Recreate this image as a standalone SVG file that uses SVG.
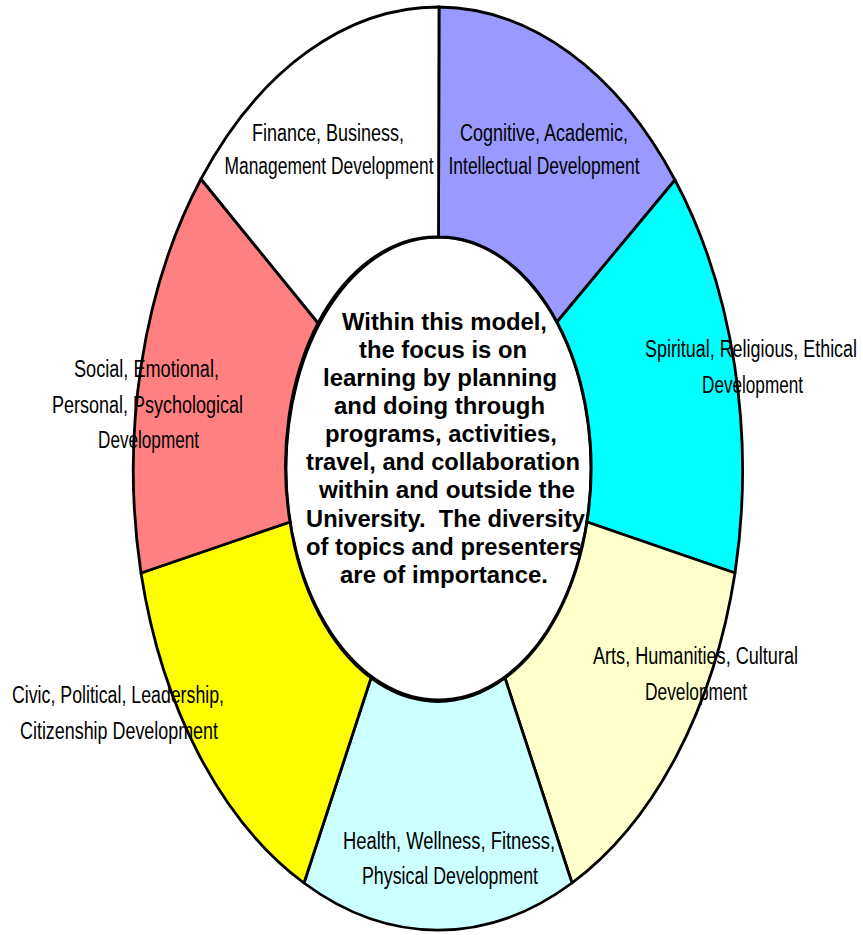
<svg xmlns="http://www.w3.org/2000/svg" width="863" height="935" viewBox="0 0 863 935">
<style>
.seg{stroke:#000;stroke-width:2.8;stroke-linejoin:round}
.lbl{font-family:"Liberation Sans",Arial,sans-serif;font-size:23px;fill:#000;text-anchor:middle}
.ctr{font-family:"Liberation Sans",Arial,sans-serif;font-size:23.5px;font-weight:bold;fill:#000}
</style>
<rect width="863" height="935" fill="#fff"/>
<g id="center">
<ellipse cx="438.5" cy="468.5" rx="152.5" ry="231.5" fill="#fff" class="seg"/>
<text class="ctr" x="342" y="330" textLength="205" lengthAdjust="spacingAndGlyphs">Within this model,</text>
<text class="ctr" x="359" y="358" textLength="168" lengthAdjust="spacingAndGlyphs">the focus is on</text>
<text class="ctr" x="323" y="386" textLength="234" lengthAdjust="spacingAndGlyphs">learning by planning</text>
<text class="ctr" x="334" y="414" textLength="211" lengthAdjust="spacingAndGlyphs">and doing through</text>
<text class="ctr" x="325" y="442" textLength="232" lengthAdjust="spacingAndGlyphs">programs, activities,</text>
<text class="ctr" x="306" y="470" textLength="274" lengthAdjust="spacingAndGlyphs">travel, and collaboration</text>
<text class="ctr" x="319" y="498" textLength="256" lengthAdjust="spacingAndGlyphs">within and outside the</text>
<text class="ctr" x="306" y="527" textLength="279" lengthAdjust="spacingAndGlyphs" style="white-space:pre">University.  The diversity</text>
<text class="ctr" x="306" y="555" textLength="276" lengthAdjust="spacingAndGlyphs">of topics and presenters</text>
<text class="ctr" x="340" y="583" textLength="208" lengthAdjust="spacingAndGlyphs">are of importance.</text>
</g>
<g id="cognitive">
<path class="seg" fill="#9999FF" d="M439,7 A305,463 0 0 1 675,180 L557,322 A152.5,231.5 0 0 0 438.5,237 Z"/>
<text class="lbl" x="544" y="141" textLength="168" lengthAdjust="spacingAndGlyphs">Cognitive, Academic,</text>
<text class="lbl" x="544" y="174" textLength="191" lengthAdjust="spacingAndGlyphs">Intellectual Development</text>
</g>
<g id="spiritual">
<path class="seg" fill="#00FFFF" d="M675,180 A305,463 0 0 1 735,573 L587,522 A152.5,231.5 0 0 0 557,322 Z"/>
<text class="lbl" x="751" y="357" textLength="212" lengthAdjust="spacingAndGlyphs">Spiritual, Religious, Ethical</text>
<text class="lbl" x="752.5" y="393" textLength="101" lengthAdjust="spacingAndGlyphs">Development</text>
</g>
<g id="arts">
<path class="seg" fill="#FFFFCC" d="M735,573 A305,463 0 0 1 572,883 L505,678 A152.5,231.5 0 0 0 587,522 Z"/>
<text class="lbl" x="695.5" y="664" textLength="205" lengthAdjust="spacingAndGlyphs">Arts, Humanities, Cultural</text>
<text class="lbl" x="696" y="700" textLength="102" lengthAdjust="spacingAndGlyphs">Development</text>
</g>
<g id="health">
<path class="seg" fill="#CCFFFF" d="M572,883 A305,463 0 0 1 304,883 L371,678 A152.5,231.5 0 0 0 505,678 Z"/>
<text class="lbl" x="449" y="849" textLength="212" lengthAdjust="spacingAndGlyphs">Health, Wellness, Fitness,</text>
<text class="lbl" x="450" y="884" textLength="176" lengthAdjust="spacingAndGlyphs">Physical Development</text>
</g>
<g id="civic">
<path class="seg" fill="#FFFF00" d="M304,883 A305,463 0 0 1 141,573 L290,522 A152.5,231.5 0 0 0 371,678 Z"/>
<text class="lbl" x="118" y="703" textLength="212" lengthAdjust="spacingAndGlyphs">Civic, Political, Leadership,</text>
<text class="lbl" x="119" y="739" textLength="198" lengthAdjust="spacingAndGlyphs">Citizenship Development</text>
</g>
<g id="social">
<path class="seg" fill="#FF8080" d="M141,573 A305,463 0 0 1 201,179 L318,323 A152.5,231.5 0 0 0 290,522 Z"/>
<text class="lbl" x="146.5" y="377" textLength="145" lengthAdjust="spacingAndGlyphs">Social, Emotional,</text>
<text class="lbl" x="147.5" y="413" textLength="191" lengthAdjust="spacingAndGlyphs">Personal, Psychological</text>
<text class="lbl" x="148.5" y="448" textLength="101" lengthAdjust="spacingAndGlyphs">Development</text>
</g>
<g id="finance">
<path class="seg" fill="#FFFFFF" d="M201,179 A305,463 0 0 1 439,7 L438.5,237 A152.5,231.5 0 0 0 318,323 Z"/>
<text class="lbl" x="328" y="141" textLength="152" lengthAdjust="spacingAndGlyphs">Finance, Business,</text>
<text class="lbl" x="329" y="174" textLength="209" lengthAdjust="spacingAndGlyphs">Management Development</text>
</g>
</svg>
